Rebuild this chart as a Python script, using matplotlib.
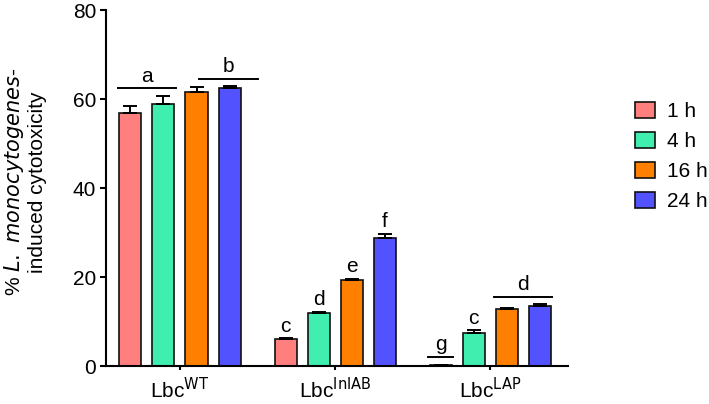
import numpy as np
import matplotlib.pyplot as plt

plt.rcParams['font.family'] = ['Liberation Sans', 'DejaVu Sans']

groups = ['Lbc$^{\\mathrm{WT}}$', 'Lbc$^{\\mathrm{InlAB}}$', 'Lbc$^{\\mathrm{LAP}}$']
times = ['1 h', '4 h', '16 h', '24 h']
colors = ['#FF7F7F', '#40EEB0', '#FF8000', '#5252FF']

# mean cytotoxicity per time point, one row per strain
means = np.array([[56.9, 59.0, 61.7, 62.4],
                  [6.0, 12.0, 19.3, 28.8],
                  [0.2, 7.5, 12.9, 13.4]])
errs = np.array([[1.6, 1.7, 1.0, 0.5],
                 [0.2, 0.2, 0.3, 0.9],
                 [0.1, 0.5, 0.2, 0.5]])

# significance letters: (group, first bar, last bar, letter, line?)
letters = [(0, 0, 1, 'a', True), (0, 2, 3, 'b', True),
           (1, 0, 0, 'c', False), (1, 1, 1, 'd', False),
           (1, 2, 2, 'e', False), (1, 3, 3, 'f', False),
           (2, 0, 0, 'g', True), (2, 1, 1, 'c', False), (2, 2, 3, 'd', True)]
shift = {(0, 2): 0.1}

fig = plt.figure(figsize=(7.09, 4.04), dpi=100)
ax = fig.add_axes([0.1495, 0.094, 0.652, 0.881])

x = np.arange(len(groups))
step = 0.213
width = 0.142
offsets = (np.arange(4) - 1.5) * step

for i in range(4):
    ax.bar(x + offsets[i], means[:, i], width, color=colors[i],
           edgecolor='#111111', linewidth=1.2, label=times[i], zorder=2)
    ax.errorbar(x + offsets[i], means[:, i],
                yerr=[np.zeros(3), errs[:, i]], fmt='none',
                ecolor='black', elinewidth=1.4, capsize=5, capthick=1.4, zorder=3)

for g, b0, b1, txt, line in letters:
    top = (means[g, b0:b1 + 1] + errs[g, b0:b1 + 1]).max()
    dx = shift.get((g, b0), 0)
    x0 = x[g] + offsets[b0] - width / 2 - 0.01 + dx
    x1 = x[g] + offsets[b1] + width / 2 + 0.01 + dx
    xc = (x0 + x1) / 2
    if line:
        y = top + 1.7
        ax.plot([x0, x1], [y, y], color='black', lw=1.4, zorder=3)
        ax.text(xc, y + 0.6, txt, ha='center', va='bottom', fontsize=15)
    else:
        ax.text(xc, top + 0.6, txt, ha='center', va='bottom', fontsize=15)

ax.set_xlim(-0.477, 2.503)
ax.set_ylim(0, 80)
ax.set_yticks([0, 20, 40, 60, 80])
ax.set_xticks(x)
ax.set_xticklabels(groups, fontsize=15)
ax.tick_params(axis='y', labelsize=15, width=1.5, length=4, pad=3)
ax.tick_params(axis='x', width=1.5, length=3, pad=5)
for s in ['top', 'right']:
    ax.spines[s].set_visible(False)
for s in ['left', 'bottom']:
    ax.spines[s].set_linewidth(1.5)

ax.set_ylabel('% $\\it{L.\\ monocytogenes}$-\ninduced cytotoxicity', fontsize=15,
              linespacing=1.15)
ax.yaxis.set_label_coords(-0.128, 0.517)

fig.legend(*ax.get_legend_handles_labels(), loc='upper left',
           bbox_to_anchor=(0.896, 0.748), frameon=False, borderpad=0,
           borderaxespad=0, fontsize=15, handlelength=0.95, handleheight=0.85,
           handletextpad=0.55, labelspacing=0.5)

fig.savefig('out.png', dpi=100)
